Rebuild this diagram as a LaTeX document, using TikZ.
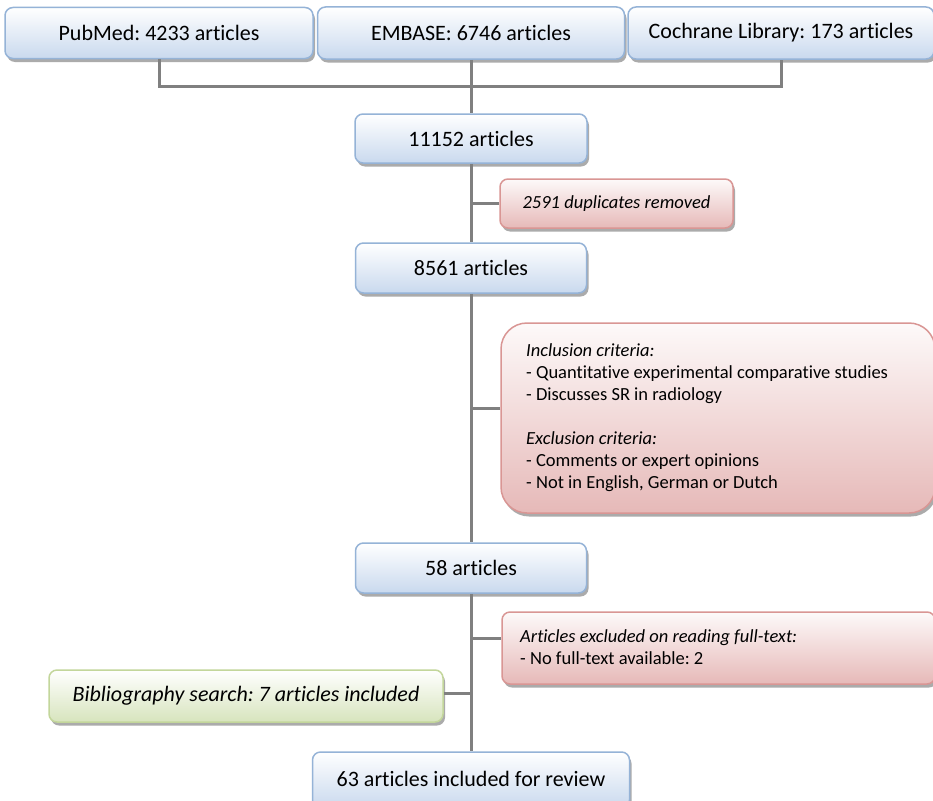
\documentclass[tikz,border=0pt]{standalone}
\usepackage{fontspec}
\setmainfont{Carlito}[Ligatures=NoCommon]
\usetikzlibrary{shadows,calc}
\frenchspacing

\definecolor{bluedge}{HTML}{95B3D7}
\definecolor{bluefill}{HTML}{C9D9EE}
\definecolor{rededge}{HTML}{D99694}
\definecolor{redfill}{HTML}{E6B9B8}
\definecolor{greenedge}{HTML}{C3D69B}
\definecolor{greenfill}{HTML}{D7E4BD}
\definecolor{linegray}{HTML}{808080}

\tikzset{
  box/.style={rounded corners=8pt, line width=1.5pt, inner sep=0pt,
    drop shadow={shadow xshift=2pt, shadow yshift=-3.5pt, fill=black!55, opacity=0.6},
    font=\fontsize{22}{26}\selectfont},
  bluebox/.style={box, draw=bluedge, top color=white, bottom color=bluefill},
  redbox/.style={box, draw=rededge, top color=white!60!redfill!20, bottom color=redfill},
  greenbox/.style={box, draw=greenedge, top color=white, bottom color=greenfill},
  smalltext/.style={font=\fontsize{18.5}{22}\selectfont},
  conn/.style={draw=linegray, line width=3pt}
}

\begin{document}
\begin{tikzpicture}[x=1pt,y=-1pt]
\clip (0,0) rectangle (933,800);
\fill[white] (0,0) rectangle (933,800);

% databases
\node[bluebox, minimum width=308pt, minimum height=51pt] (pub) at (159,33) {PubMed: 4233 articles};
\node[bluebox, minimum width=307pt, minimum height=52pt] (emb) at (471,33) {EMBASE: 6746 articles};
\node[bluebox, minimum width=306pt, minimum height=52pt] (coch) at (781,33) {Cochrane Library: 173 articles};

% main flow
\node[bluebox, minimum width=232pt, minimum height=49pt] (n1) at (471,138.5) {11152 articles};
\node[redbox, smalltext, minimum width=233pt, minimum height=49pt] (dup) at (616.5,203.5) {\itshape 2591 duplicates removed};
\node[bluebox, minimum width=231pt, minimum height=50pt] (n2) at (471,268) {8561 articles};
\node[redbox, rounded corners=26pt, minimum width=434pt, minimum height=190pt] (crit) at (718,418) {};
\node[smalltext, anchor=north west, align=left, inner sep=0pt] (crittext) at (526,343)
  {\itshape Inclusion criteria:\\
   - Quantitative experimental comparative studies\\
   - Discusses SR in radiology\\[22pt]
   \itshape Exclusion criteria:\\
   - Comments or expert opinions\\
   - Not in English, German or Dutch};
\node[bluebox, minimum width=231pt, minimum height=50pt] (n3) at (471,568) {58 articles};
\node[redbox, minimum width=433pt, minimum height=72pt] (full) at (718.5,648) {};
\node[smalltext, anchor=north west, align=left, inner sep=0pt] (fulltext) at (520,629)
  {\itshape Articles excluded on reading full-text:\\
   - No full-text available: 2};
\node[greenbox, minimum width=394pt, minimum height=52pt] (bib) at (246,696) {\itshape Bibliography search: 7 articles included};
\node[bluebox, minimum width=317pt, minimum height=56pt] (rev) at (471,780) {\raisebox{3pt}{63 articles included for review}};

% connectors
\coordinate (join) at (471,86);
\draw[conn] (pub.south) |- (join) -| (coch.south);
\draw[conn] (emb.south) -- (n1.north);
\draw[conn] (n1.south) -- (n2.north);
\draw[conn] (dup.west) -- (dup.west -| n1.south);
\draw[conn] (n2.south) -- (n3.north);
\draw[conn] (crit.west |- 0,408) -- (n2.south |- 0,408);
\draw[conn] (n3.south) -- (rev.north);
\draw[conn] (full.west |- 0,638) -- (n3.south |- 0,638);
\draw[conn] (bib.east |- 0,693) -- (n3.south |- 0,693);
\end{tikzpicture}
\end{document}
